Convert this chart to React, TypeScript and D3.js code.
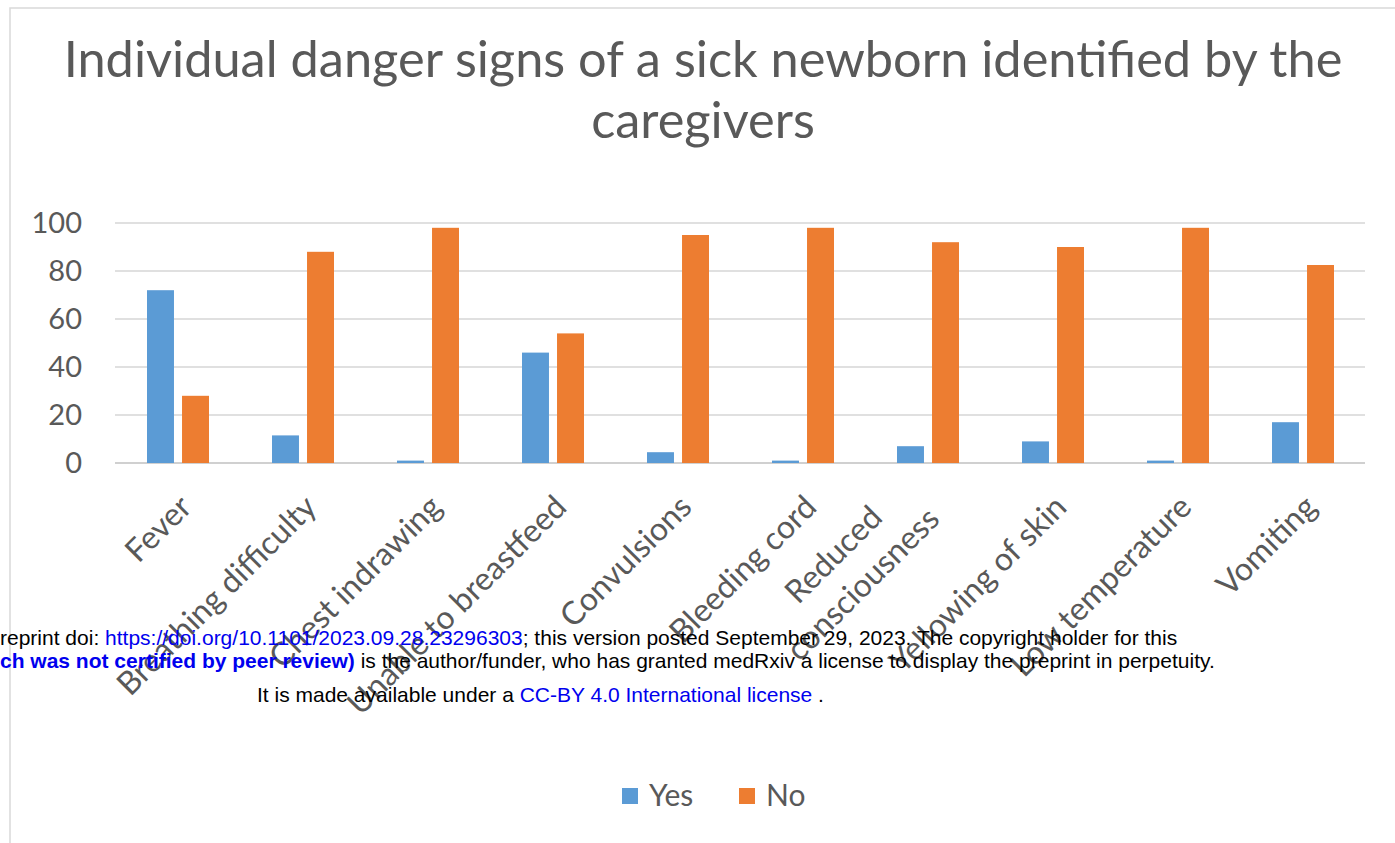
import React from "react";
import * as d3 from "d3";

const categories = [
  "Fever",
  "Breathing difficulty",
  "Chest indrawing",
  "Unable to breastfeed",
  "Convulsions",
  "Bleeding cord",
  "Reduced\nconsciousness",
  "Yellowing of skin",
  "Low temperature",
  "Vomiting",
];
const yesValues = [72, 11.5, 1, 46, 4.5, 1, 7, 9, 1, 17];
const noValues = [28, 88, 98, 54, 95, 98, 92, 90, 98, 82.5];
const seriesNames = ["Yes", "No"];
const seriesColors = ["#5b9bd5", "#ed7d31"];
const yTicks = [0, 20, 40, 60, 80, 100];
const titleLines = [
  "Individual danger signs of a sick newborn identified by the",
  "caregivers",
];

const W = 1395;
const H = 843;
const plotLeft = 115;
const plotRight = 1365;
const plotTop = 223;
const plotBottom = 463;
const grey = "#595959";
const font = "Lato, 'Open Sans', sans-serif";
const labelSize = 32;

function measure(text: string, size: number): number {
  if (typeof document === "undefined") return text.length * size * 0.5;
  const c = document.createElement("canvas");
  const ctx = c.getContext("2d");
  if (!ctx) return text.length * size * 0.5;
  ctx.font = `${size}px Lato`;
  return ctx.measureText(text).width;
}

export default function App() {
  const x = d3.scaleBand<string>().domain(categories).range([plotLeft, plotRight]).padding(0);
  const inner = d3
    .scaleBand<string>()
    .domain(seriesNames)
    .range([32, 94])
    .paddingInner(0.23)
    .paddingOuter(0);
  const y = d3.scaleLinear().domain([0, 100]).range([plotBottom, plotTop]);
  const series = [yesValues, noValues];

  return (
    <svg
      width={W}
      height={H}
      style={{ position: "absolute", left: 0, top: 0, background: "#fff" }}
      fontFamily={font}
    >
      <rect x={0} y={0} width={W} height={H} fill="#fff" />
      <rect x={10} y={8} width={W} height={H} fill="none" stroke="#d9d9d9" strokeWidth={1.5} />

      {titleLines.map((t, i) => (
        <text
          key={i}
          x={703}
          y={77 + i * 61}
          textAnchor="middle"
          fontSize={50.5}
          fill={grey}
        >
          {t}
        </text>
      ))}

      {yTicks.map((t) => (
        <g key={t}>
          <line
            x1={plotLeft}
            x2={plotRight}
            y1={y(t)}
            y2={y(t)}
            stroke={t === 0 ? "#d0d0d0" : "#e0e0e0"}
            strokeWidth={2}
          />
          <text
            x={82}
            y={y(t)}
            dy="0.36em"
            textAnchor="end"
            fontSize={29}
            fill={grey}
          >
            {t}
          </text>
        </g>
      ))}

      {categories.map((c, ci) =>
        series.map((vals, si) => (
          <rect
            key={c + si}
            x={(x(c) as number) + (inner(seriesNames[si]) as number)}
            y={y(vals[ci])}
            width={inner.bandwidth()}
            height={plotBottom - y(vals[ci])}
            fill={seriesColors[si]}
          />
        ))
      )}

      {categories.map((c) => {
        const cx = (x(c) as number) + x.bandwidth() / 2 + 16;
        const cy = 509;
        const lines = c.split("\n");
        if (lines.length === 1) {
          return (
            <text
              key={c}
              x={cx}
              y={cy}
              transform={`rotate(-45, ${cx}, ${cy})`}
              textAnchor="end"
              fontSize={labelSize}
              fill={grey}
            >
              {c}
            </text>
          );
        }
        const maxW = d3.max(lines, (l) => measure(l, labelSize)) as number;
        const lh = labelSize * 1.3;
        return (
          <text
            key={c}
            transform={`rotate(-45, ${cx}, ${cy})`}
            textAnchor="middle"
            fontSize={labelSize}
            fill={grey}
          >
            {lines.map((l, i) => (
              <tspan
                key={i}
                x={cx - 10 - maxW / 2}
                y={cy + 7 - (lines.length - 1 - i) * lh}
              >
                {l}
              </tspan>
            ))}
          </text>
        );
      })}

      <g fontFamily="'Liberation Sans', Arial, sans-serif" fontSize={21}>
        <text x={0} y={645} fill="#000">
          reprint doi:{" "}
          <tspan fill="#0000ee">https://doi.org/10.1101/2023.09.28.23296303</tspan>
          ; this version posted September 29, 2023. The copyright holder for this
        </text>
        <text x={0} y={668} fill="#000">
          <tspan fill="#0000ee" fontWeight="bold">
            ch was not certified by peer review)
          </tspan>{" "}
          is the author/funder, who has granted medRxiv a license to display the preprint in perpetuity.
        </text>
        <text x={257} y={702} fill="#000">
          It is made available under a{" "}
          <tspan fill="#0000ee">CC-BY 4.0 International license</tspan> .
        </text>
      </g>

      {seriesNames.map((s, i) => {
        const lx = i === 0 ? 622 : 739;
        return (
          <g key={s}>
            <rect x={lx} y={788} width={16} height={16} fill={seriesColors[i]} />
            <text x={lx + 27} y={806} fontSize={30} fill={grey}>
              {s}
            </text>
          </g>
        );
      })}
    </svg>
  );
}
